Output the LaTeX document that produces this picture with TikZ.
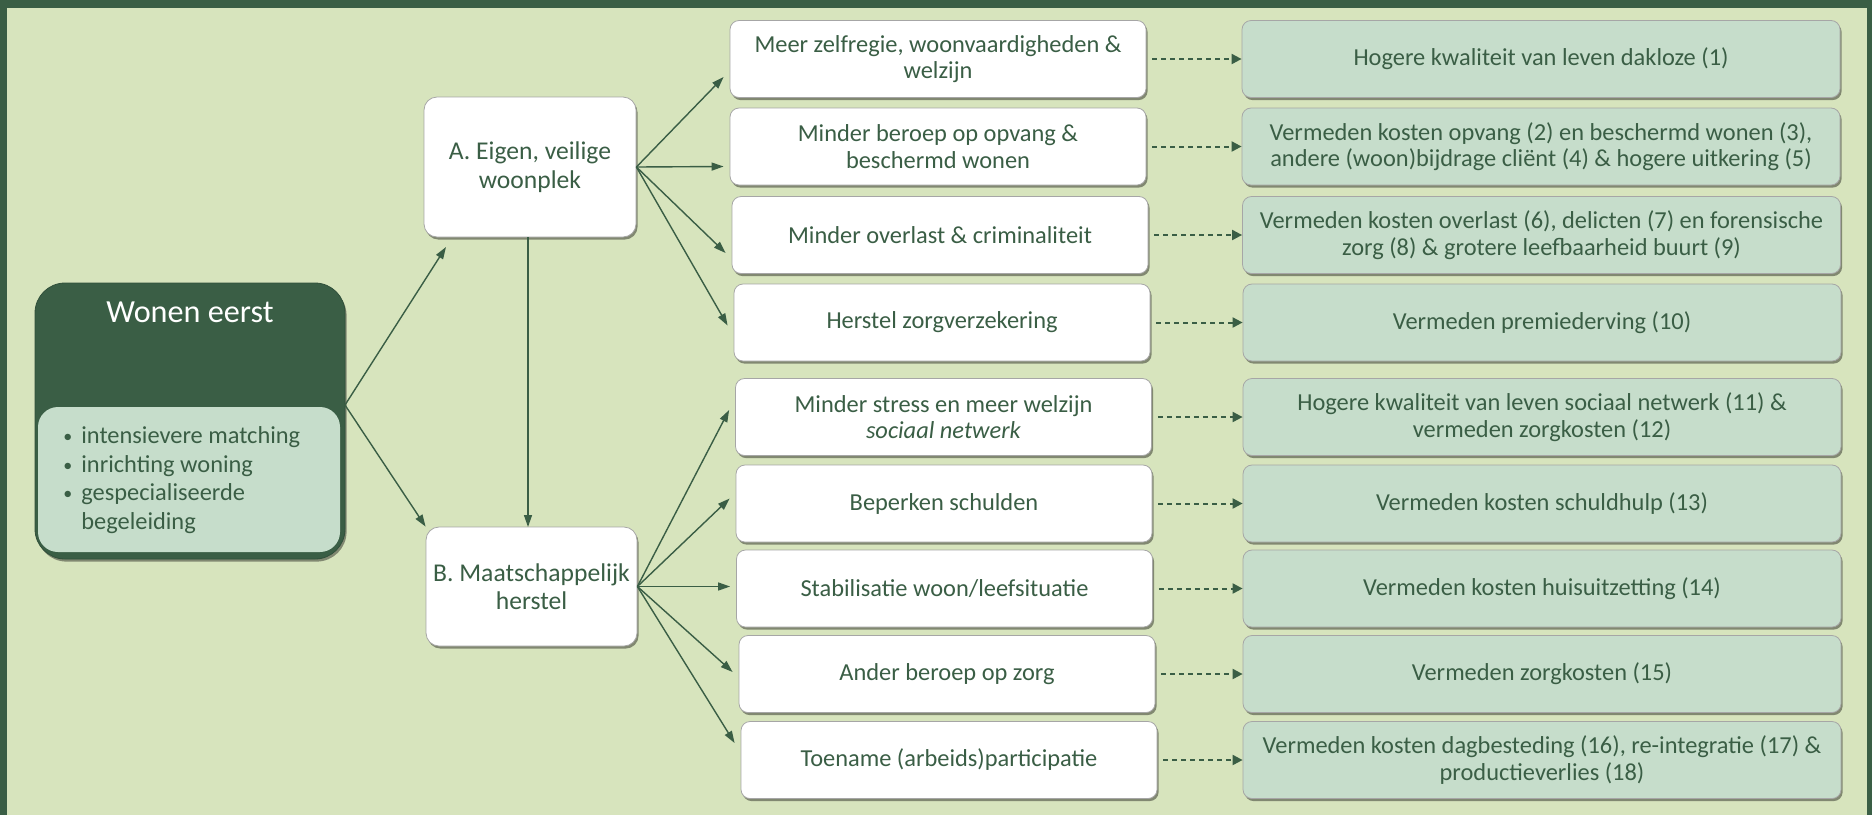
\documentclass[tikz,border=0pt]{standalone}
\usepackage{fontspec}
\setmainfont{Carlito}
\usetikzlibrary{shadows,arrows.meta,calc}
\definecolor{dkgreen}{HTML}{3A5E45}
\definecolor{bggreen}{HTML}{D7E4BD}
\definecolor{ltgreen}{HTML}{C6DDCB}
\newcommand{\smbul}{{\fontsize{9}{9}\selectfont\raisebox{0.6pt}{•}}}
\begin{document}
\begin{tikzpicture}[x=0.5pt,y=-0.5pt,
 boxshadow/.style={drop shadow={shadow xshift=0.8pt,shadow yshift=-1.3pt,fill=black,opacity=0.4}},
 midbox/.style={draw=black!35, line width=0.4pt, fill=white, rounded corners=4.5pt, minimum width=208pt, minimum height=38.5pt, inner sep=0pt, align=center, text=dkgreen, font=\fontsize{12.2}{13.3}\selectfont, boxshadow},
 resbox/.style={midbox, fill=ltgreen, minimum width=299pt},
 hubbox/.style={midbox, rounded corners=6.5pt, minimum width=106pt, minimum height=70pt, font=\fontsize{12.8}{14.2}\selectfont},
 arr/.style={draw=dkgreen, line width=0.7pt, -{Triangle[length=6pt,width=4pt]}},
 darr/.style={draw=dkgreen, line width=1pt, dash pattern=on 2.5pt off 2pt, -{Triangle[length=5pt,width=5pt]}}
]
\useasboundingbox (0,0) rectangle (1872,815);
\fill[dkgreen] (0,0) rectangle (1872,815);
\fill[bggreen] (7,8) rectangle (1867,815);

% Wonen eerst
\node[draw=dkgreen!85!black, fill=dkgreen, rounded corners=15pt, minimum width=155pt, minimum height=138pt, inner sep=0pt, boxshadow] (we) at (190,421) {};
\node[fill=ltgreen, rounded corners=10pt, minimum width=151pt, minimum height=72.5pt, inner sep=0pt] (wl) at (189,479.5) {};
\node[text=white, font=\fontsize{16.1}{18}\selectfont] (wt) at (190,312) {Wonen eerst};
\node[anchor=west, text=dkgreen, inner sep=0pt, font=\fontsize{12.2}{14.25}\selectfont] (wlist) at (63,481) {%
\begin{tabular}{@{}l@{\hspace{4.5pt}}l@{}}
\smbul & intensievere matching\\
\smbul & inrichting woning\\
\smbul & gespecialiseerde\\
 & begeleiding
\end{tabular}};

% hubs
\node[hubbox] (a) at (530,167) {A. Eigen, veilige\\woonplek};
\node[hubbox, minimum width=105.5pt, minimum height=59.5pt] (b) at (531.5,586.5) {B. Maatschappelijk\\herstel};

% middle column
\node[midbox] (m1) at (938,59) {Meer zelfregie, woonvaardigheden \&\\welzijn};
\node[midbox] (m2) at (938,146.5) {Minder beroep op opvang \&\\beschermd wonen};
\node[midbox] (m3) at (940,235) {Minder overlast \& criminaliteit};
\node[midbox] (m4) at (942,322.5) {Herstel zorgverzekering};
\node[midbox] (m5) at (943.5,417) {Minder stress en meer welzijn\\\textit{sociaal netwerk}};
\node[midbox] (m6) at (944,503.5) {Beperken schulden};
\node[midbox] (m7) at (944.5,588.5) {Stabilisatie woon/leefsituatie};
\node[midbox] (m8) at (947,674) {Ander beroep op zorg};
\node[midbox] (m9) at (949,760) {Toename (arbeids)participatie};

% result column
\node[resbox] (r1) at (1541,59) {Hogere kwaliteit van leven dakloze (1)};
\node[resbox] (r2) at (1541,146.5) {Vermeden kosten opvang (2) en beschermd wonen (3),\\andere (woon)bijdrage cliënt (4) \& hogere uitkering (5)};
\node[resbox] (r3) at (1541.5,235) {Vermeden kosten overlast (6), delicten (7) en forensische\\zorg (8) \& grotere leefbaarheid buurt (9)};
\node[resbox] (r4) at (1542,322.5) {Vermeden premiederving (10)};
\node[resbox] (r5) at (1542,417) {Hogere kwaliteit van leven sociaal netwerk (11) \&\\vermeden zorgkosten (12)};
\node[resbox] (r6) at (1542,503.5) {Vermeden kosten schuldhulp (13)};
\node[resbox] (r7) at (1542,588.5) {Vermeden kosten huisuitzetting (14)};
\node[resbox] (r8) at (1542,674) {Vermeden zorgkosten (15)};
\node[resbox] (r9) at (1542,760) {Vermeden kosten dagbesteding (16), re-integratie (17) \&\\productieverlies (18)};

% arrows from Wonen eerst
\coordinate (weo) at (345,405);
\coordinate (ain) at (446,247);
\coordinate (abtop) at (528,237);
\coordinate (abbot) at (528,527);
\draw[arr] (weo) -- (ain);
\draw[arr] (weo) -- (b.north west);
\draw[arr] (abtop) -- (abbot);

% fans
\draw[arr] (a.east) -- ($(m1.west)+(-6,18)$);
\draw[arr] (a.east) -- ($(m2.west)+(-6,20)$);
\draw[arr] (a.east) -- ($(m3.west)+(-6,18)$);
\draw[arr] (a.east) -- ($(m4.west)+(-6,3)$);
\draw[arr] (b.east) -- ($(m5.west)+(-6,-7)$);
\draw[arr] (b.east) -- ($(m6.west)+(-6,-5)$);
\draw[arr] (b.east) -- ($(m7.west)+(-6,-2)$);
\draw[arr] (b.east) -- ($(m8.west)+(-6,-2)$);
\draw[arr] (b.east) -- ($(m9.west)+(-6,-17)$);

% dashed result arrows
\foreach \i in {1,...,9}{
  \draw[darr] ($(m\i.east)+(6,0)$) -- (r\i.west);
}
\end{tikzpicture}
\end{document}
